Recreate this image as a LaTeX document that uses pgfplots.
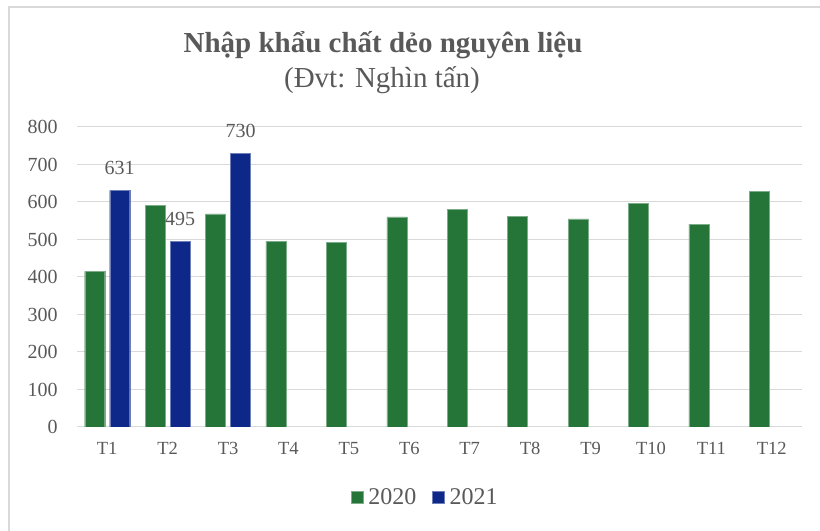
\documentclass[border=0pt]{standalone}
\usepackage{fontspec}
\setmainfont{Liberation Serif}
\usepackage{pgfplots}
\pgfplotsset{compat=1.18}
\definecolor{gB}{RGB}{38,117,56}
\definecolor{bB}{RGB}{14,40,138}
\definecolor{txt}{RGB}{89,89,89}
\definecolor{grd}{RGB}{217,217,217}
\begin{document}
\begin{tikzpicture}[x=0.75pt,y=0.75pt]
\useasboundingbox (0,0) rectangle (820,531);
\draw[grd, line width=1.5pt] (9,-5) -- (9,524) -- (830,524);
\node[font=\fontsize{21.75}{24}\selectfont\bfseries, text=txt, anchor=base] at (383,478) {Nhập khẩu chất dẻo nguyên liệu};
\node[font=\fontsize{21.75}{24}\selectfont, text=txt, anchor=base] at (382,443) {(Đvt: Nghìn tấn)};
\begin{axis}[
  at={(57.75pt,78pt)}, anchor=south west,
  scale only axis, width=543.75pt, height=225pt,
  xmin=-0.5, xmax=11.5, ymin=0, ymax=800,
  xtick={0,...,11},
  xticklabels={T1,T2,T3,T4,T5,T6,T7,T8,T9,T10,T11,T12},
  ytick={0,100,...,800},
  ymajorgrids, grid style={grd, line width=0.75pt},
  axis line style={draw=none},
  major tick length=0pt,
  /pgf/number format/assume math mode=true,
  tick label style={text=txt},
  xticklabel style={font=\fontsize{13.9}{15}\selectfont, anchor=base, inner sep=0pt, yshift=-21pt},
  yticklabel style={font=\fontsize{15}{17}\selectfont, anchor=east, inner sep=0pt, xshift=-14.25pt},
  legend style={at={(0.479,-0.235)}, anchor=center, draw=none, fill=none,
    font=\fontsize{18}{20}\selectfont, text=txt, inner sep=0pt,
    nodes={inner sep=0pt},
    /tikz/every odd column/.append style={column sep=3.75pt},
    /tikz/every even column/.append style={column sep=12pt}},
  legend columns=2,
  legend image code/.code={\fill[#1] (0pt,-4.5pt) rectangle (9pt,4.5pt);},
]
\addplot[ybar, bar width=15pt, bar shift=-9.375pt, fill=gB, draw=gB!60!white, line width=0.3pt]
  coordinates {(0,415) (1,591) (2,568) (3,495) (4,492) (5,560) (6,581) (7,562) (8,555) (9,596) (10,541) (11,629)};
\addlegendentry{2020}
\addplot[ybar, bar width=15pt, bar shift=9.375pt, fill=bB, draw=bB!60!white, line width=0.3pt,
  nodes near coords,
  every node near coord/.append style={anchor=base, xshift=9.375pt, yshift=12pt, inner sep=0pt, text=txt, font=\fontsize{15}{17}\selectfont}]
  coordinates {(0,631) (1,495) (2,730)};
\addlegendentry{2021}
\end{axis}
\end{tikzpicture}
\end{document}
